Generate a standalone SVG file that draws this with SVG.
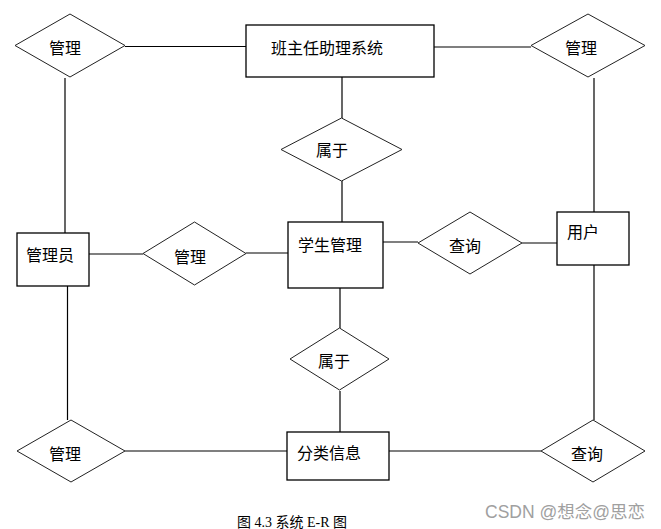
<svg xmlns="http://www.w3.org/2000/svg" width="661" height="529" viewBox="0 0 661 529">
<style>
.ent{fill:#fff;stroke:#000;stroke-width:1.3}
.rel{fill:#fff;stroke:#222;stroke-width:1}
.t{font-family:"Noto Sans CJK SC","Liberation Sans",sans-serif;font-size:16px;fill:#000}
.c line{stroke:#000;stroke-width:1.2}
.cap{font-family:"Liberation Serif","Noto Sans CJK SC",serif;font-size:14px;fill:#000}
.wm{font-family:"Liberation Sans","Noto Sans CJK SC",sans-serif;font-size:17.5px;fill:#a0a0a0}
</style>
<rect width="661" height="529" fill="#fff"/>
<g id="connectors" class="c">
<line x1="125" y1="46.5" x2="246" y2="46.5"/>
<line x1="434" y1="47" x2="531" y2="47"/>
<line x1="342" y1="77" x2="342" y2="118"/>
<line x1="342" y1="181" x2="342" y2="222"/>
<line x1="65" y1="78" x2="65" y2="233"/>
<line x1="594" y1="78" x2="594" y2="212"/>
<line x1="89" y1="254" x2="143" y2="254"/>
<line x1="246" y1="253" x2="288" y2="253"/>
<line x1="383" y1="242" x2="418" y2="242"/>
<line x1="522" y1="243" x2="557" y2="243"/>
<line x1="340" y1="288" x2="340" y2="328"/>
<line x1="340" y1="391" x2="340" y2="432"/>
<line x1="67.5" y1="286" x2="67.5" y2="420"/>
<line x1="125" y1="451" x2="287" y2="451"/>
<line x1="389" y1="451" x2="541" y2="451"/>
<line x1="594" y1="265" x2="594" y2="420"/>
</g>
<g id="sys"><rect class="ent" x="246" y="25" width="188" height="52"/><text class="t" x="271" y="54">班主任助理系统</text></g>
<g id="rel-manage-tl"><polygon class="rel" points="15,45.5 70,14 125,45.5 70,77"/><text class="t" x="49" y="54">管理</text></g>
<g id="rel-manage-tr"><polygon class="rel" points="531,45.5 588,14 645,45.5 588,77"/><text class="t" x="565" y="54">管理</text></g>
<g id="rel-belong-top"><polygon class="rel" points="281,149.5 341.5,118 402,149.5 341.5,181"/><text class="t" x="316" y="156">属于</text></g>
<g id="student"><rect class="ent" x="288" y="222" width="95" height="66"/><text class="t" x="298" y="251">学生管理</text></g>
<g id="admin"><rect class="ent" x="17" y="233" width="72" height="53"/><text class="t" x="26" y="261">管理员</text></g>
<g id="rel-manage-mid"><polygon class="rel" points="143,253.5 194.5,222 246,253.5 194.5,285"/><text class="t" x="174" y="263">管理</text></g>
<g id="rel-query-mid"><polygon class="rel" points="418,243 470,212 522,243 470,274"/><text class="t" x="449" y="252">查询</text></g>
<g id="user"><rect class="ent" x="557" y="212" width="72" height="53"/><text class="t" x="567" y="238">用户</text></g>
<g id="rel-belong-low"><polygon class="rel" points="290,359 339.5,328 389,359 339.5,390"/><text class="t" x="318" y="367">属于</text></g>
<g id="rel-manage-bl"><polygon class="rel" points="17,451 71,420 125,451 71,482"/><text class="t" x="49" y="460">管理</text></g>
<g id="category"><rect class="ent" x="287" y="432" width="102" height="48"/><text class="t" x="297" y="459">分类信息</text></g>
<g id="rel-query-br"><polygon class="rel" points="541,451 593,420 645,451 593,482"/><text class="t" x="571" y="460">查询</text></g>
<text class="cap" x="237" y="527">图 4.3 系统 E-R 图</text>
<text class="wm" x="485" y="518">CSDN @想念@思恋</text>
</svg>
